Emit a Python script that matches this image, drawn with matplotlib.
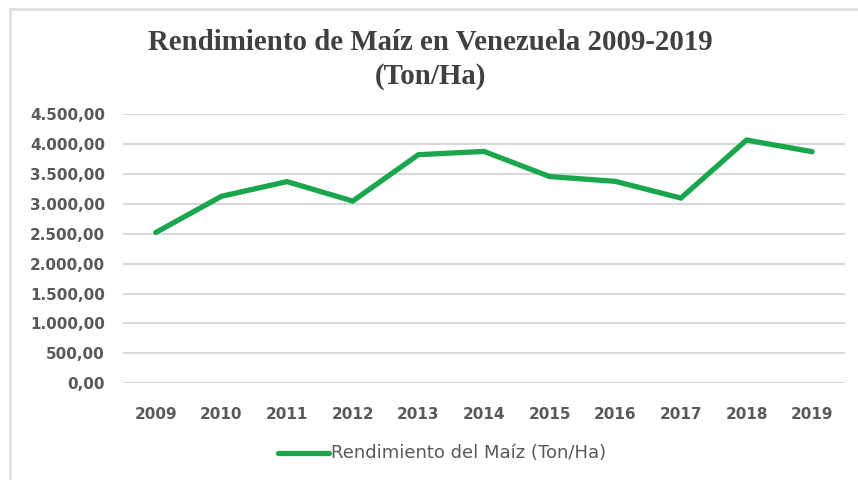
import matplotlib
matplotlib.use("Agg")
import matplotlib.pyplot as plt
from matplotlib.lines import Line2D

# data
years = ["2009", "2010", "2011", "2012", "2013", "2014", "2015", "2016", "2017", "2018", "2019"]
rendimiento = [2520, 3125, 3370, 3045, 3820, 3875, 3455, 3375, 3095, 4065, 3870]
y_ticks = [0, 500, 1000, 1500, 2000, 2500, 3000, 3500, 4000, 4500]

green = "#1aa64c"
grid_col = "#d9d9d9"
text_col = "#595959"


def fmt_es(v):
    # 4500 -> "4.500,00"
    s = f"{v:,.2f}"
    return s.replace(",", "X").replace(".", ",").replace("X", ".")


fig = plt.figure(figsize=(8.58, 4.8), dpi=100)
ax = fig.add_axes([123 / 858, 1 - 383.3 / 480, (845 - 123) / 858, (383.3 - 114) / 480])

x = list(range(len(years)))
ax.plot(x, rendimiento, color=green, lw=3.8, solid_joinstyle="miter", solid_capstyle="round",
        zorder=3)

ax.set_xlim(-0.5, len(years) - 0.5)
ax.set_ylim(0, 4500)
ax.set_yticks(y_ticks)
ax.set_yticklabels([fmt_es(v) for v in y_ticks])
ax.set_xticks(x)
ax.set_xticklabels(years)
for sp in ax.spines.values():
    sp.set_visible(False)
ax.grid(axis="y", color=grid_col, lw=1.5, zorder=0)
ax.set_axisbelow(True)
ax.tick_params(axis="both", length=0, colors=text_col, labelsize=11)
ax.tick_params(axis="y", pad=13)
ax.tick_params(axis="x", pad=17)
for lab in ax.get_xticklabels() + ax.get_yticklabels():
    lab.set_fontfamily("DejaVu Sans")
    lab.set_fontweight("bold")

# title, two lines
fig.text(430 / 858, 1 - 43 / 480, "Rendimiento de Maíz en Venezuela 2009-2019",
         ha="center", va="center", fontsize=20.8, fontweight="bold",
         family="Liberation Serif", color="#404040")
fig.text(430 / 858, 1 - 76 / 480, "(Ton/Ha)",
         ha="center", va="center", fontsize=20.8, fontweight="bold",
         family="Liberation Serif", color="#404040")

# legend
fig.add_artist(Line2D([278 / 858, 329 / 858], [1 - 453 / 480, 1 - 453 / 480],
                      color=green, lw=3.8, solid_capstyle="round"))
fig.text(331 / 858, 1 - 453 / 480, "Rendimiento del Maíz (Ton/Ha)", ha="left", va="center",
         fontsize=13, family="DejaVu Sans", color=text_col)

# light frame on top and left edges
fig.add_artist(Line2D([10 / 858, 1], [1 - 9 / 480, 1 - 9 / 480], color="#e0e0e0", lw=2))
fig.add_artist(Line2D([10 / 858, 10 / 858], [0, 1 - 9 / 480], color="#e0e0e0", lw=2))

fig.savefig("out.png", dpi=100)
